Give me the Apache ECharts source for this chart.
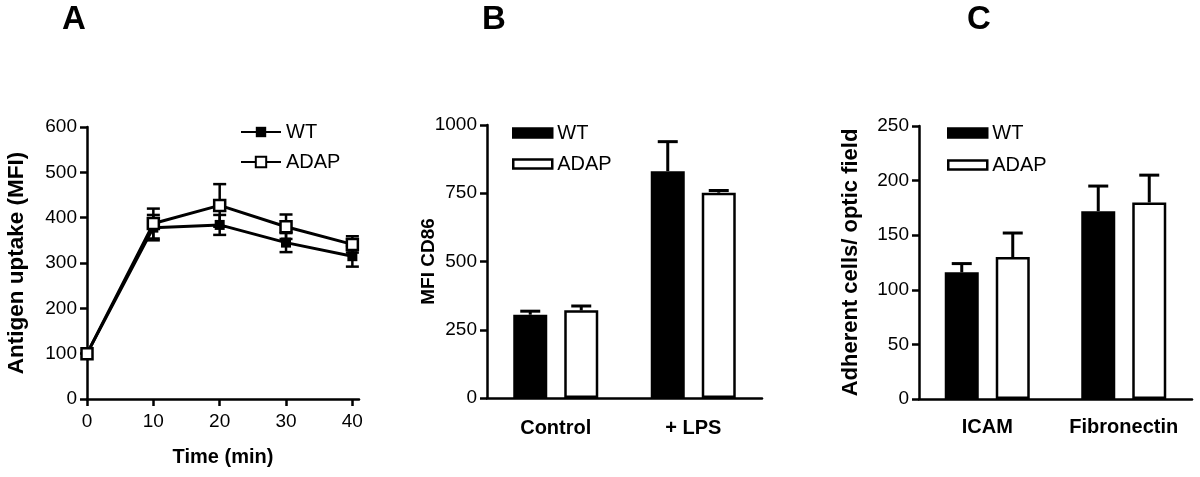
<!DOCTYPE html>
<html>
<head>
<meta charset="utf-8">
<script src="https://cdn.jsdelivr.net/npm/echarts@6/dist/echarts.min.js"></script>
<style>
html,body{margin:0;padding:0;background:#fff;}
#chart{width:1200px;height:477px;}
</style>
</head>
<body>
<div id="chart"></div>
<script>
// ---------- Panel A: antigen uptake over time ----------
const timeMin = [0, 10, 20, 30, 40];
const timeTicks = [0, 10, 20, 30, 40];
const wtUptake = [100, 378, 384, 345, 315];
const wtUptakeErr = [0, 28, 22, 21, 23];
const adapUptake = [100, 387, 427, 380, 341];
const adapUptakeErr = [0, 33, 47, 27, 18];

// ---------- Panel B: CD86 ----------
const catsB = ['Control', '+ LPS'];
const wtCD86 = [305, 831];
const wtCD86Err = [13, 108];
const adapCD86 = [321, 752];
const adapCD86Err = [16, 8];

// ---------- Panel C: adhesion ----------
const catsC = ['ICAM', 'Fibronectin'];
const wtAdh = [116, 172];
const wtAdhErr = [8, 23];
const adapAdh = [130, 180];
const adapAdhErr = [22, 25];

const FONT = '"Liberation Sans", Arial, Helvetica, sans-serif';
const BAR_W = 34;
const BAR_GAP = '50%';
const PAIR_OFF = (BAR_W + BAR_W * 0.5) / 2;

function zip3(a, b, c) { return a.map((v, i) => [v, b[i], c[i]]); }

function lineErrRender(params, api) {
  const x = api.value(0), y = api.value(1), e = api.value(2);
  if (!e) return null;
  const top = api.coord([x, y + e]);
  const bot = api.coord([x, y - e]);
  const hw = 6.5;
  const st = { stroke: '#000', lineWidth: 2.5 };
  return { type: 'group', children: [
    { type: 'line', shape: { x1: top[0], y1: top[1], x2: bot[0], y2: bot[1] }, style: st },
    { type: 'line', shape: { x1: top[0] - hw, y1: top[1], x2: top[0] + hw, y2: top[1] }, style: st },
    { type: 'line', shape: { x1: bot[0] - hw, y1: bot[1], x2: bot[0] + hw, y2: bot[1] }, style: st }
  ]};
}

function barErrRender(side) {
  return function (params, api) {
    const c = api.value(0), y = api.value(1), e = api.value(2);
    const base = api.coord([c, y]);
    const top = api.coord([c, y + e]);
    const x = base[0] + side * PAIR_OFF;
    const hw = 10;
    const st = { stroke: '#000', lineWidth: 3 };
    return { type: 'group', children: [
      { type: 'line', shape: { x1: x, y1: base[1], x2: x, y2: top[1] }, style: st },
      { type: 'line', shape: { x1: x - hw, y1: top[1], x2: x + hw, y2: top[1] }, style: st }
    ]};
  };
}

const axisLineStyle = { show: true, lineStyle: { color: '#000', width: 2.5 } };
const tickStyle = { show: true, length: 7, lineStyle: { color: '#000', width: 2.5 } };
const tickLabel = { color: '#000', fontSize: 19, fontFamily: FONT, margin: 10, formatter: v => String(v) };

const gridBase = { containLabel: false, outerBoundsMode: 'none' };

const legendText = { color: '#000', fontSize: 20, fontFamily: FONT };
const stripName = n => n.replace(/ \([ABC]\)$/, '');

const option = {
  animation: false,
  backgroundColor: '#fff',
  textStyle: { fontFamily: FONT },
  graphic: [
    { type: 'text', x: 74, y: 20, style: { text: 'A', font: 'bold 33px ' + FONT, fill: '#000', textAlign: 'center', textVerticalAlign: 'middle' } },
    { type: 'text', x: 494, y: 20, style: { text: 'B', font: 'bold 33px ' + FONT, fill: '#000', textAlign: 'center', textVerticalAlign: 'middle' } },
    { type: 'text', x: 979, y: 20, style: { text: 'C', font: 'bold 33px ' + FONT, fill: '#000', textAlign: 'center', textVerticalAlign: 'middle' } }
  ],
  grid: [
    Object.assign({ left: 87, top: 127, width: 272, height: 272 }, gridBase),
    Object.assign({ left: 487, top: 125, width: 275, height: 273 }, gridBase),
    Object.assign({ left: 919, top: 126, width: 273, height: 273 }, gridBase)
  ],
  legend: [
    { orient: 'vertical', left: 235, top: 117, itemWidth: 40, itemHeight: 13, itemGap: 10,
      data: ['WT (A)', 'ADAP (A)'], formatter: stripName, textStyle: legendText, selectedMode: false },
    { orient: 'vertical', left: 507, top: 118, itemWidth: 39, itemHeight: 9, itemGap: 11,
      data: [
        { name: 'WT (B)', icon: 'rect', itemStyle: { color: '#000', borderColor: '#000', borderWidth: 2.5 } },
        { name: 'ADAP (B)', icon: 'rect', itemStyle: { color: '#fff', borderColor: '#000', borderWidth: 2.5 } }
      ], formatter: stripName, textStyle: legendText, selectedMode: false },
    { orient: 'vertical', left: 942, top: 118, itemWidth: 39, itemHeight: 9, itemGap: 12,
      data: [
        { name: 'WT (C)', icon: 'rect', itemStyle: { color: '#000', borderColor: '#000', borderWidth: 2.5 } },
        { name: 'ADAP (C)', icon: 'rect', itemStyle: { color: '#fff', borderColor: '#000', borderWidth: 2.5 } }
      ], formatter: stripName, textStyle: legendText, selectedMode: false }
  ],
  xAxis: [
    { gridIndex: 0, type: 'value', min: 0, max: 41,
      axisLine: axisLineStyle,
      axisTick: Object.assign({ customValues: timeTicks }, tickStyle),
      axisLabel: Object.assign({}, tickLabel, { margin: 13, customValues: timeTicks }),
      splitLine: { show: false },
      name: 'Time (min)', nameLocation: 'middle', nameGap: 48, nameMoveOverlap: false,
      nameTextStyle: { color: '#000', fontSize: 20, fontWeight: 'bold', fontFamily: FONT } },
    { gridIndex: 1, type: 'category', data: catsB,
      axisLine: axisLineStyle, axisTick: { show: false },
      axisLabel: { color: '#000', fontSize: 20, fontWeight: 'bold', fontFamily: FONT, margin: 20, interval: 0 } },
    { gridIndex: 2, type: 'category', data: catsC,
      axisLine: axisLineStyle, axisTick: { show: false },
      axisLabel: { color: '#000', fontSize: 20, fontWeight: 'bold', fontFamily: FONT, margin: 18, interval: 0, hideOverlap: false } }
  ],
  yAxis: [
    { gridIndex: 0, type: 'value', min: 0, max: 600, interval: 100,
      axisLine: axisLineStyle, axisTick: tickStyle, axisLabel: tickLabel, splitLine: { show: false },
      name: 'Antigen uptake (MFI)', nameLocation: 'middle', nameGap: 59, nameRotate: 90, nameMoveOverlap: false,
      nameTextStyle: { color: '#000', fontSize: 22.5, fontWeight: 'bold', fontFamily: FONT } },
    { gridIndex: 1, type: 'value', min: 0, max: 1000, interval: 250,
      axisLine: axisLineStyle, axisTick: tickStyle, axisLabel: tickLabel, splitLine: { show: false },
      name: 'MFI CD86', nameLocation: 'middle', nameGap: 49, nameRotate: 90, nameMoveOverlap: false,
      nameTextStyle: { color: '#000', fontSize: 19, fontWeight: 'bold', fontFamily: FONT } },
    { gridIndex: 2, type: 'value', min: 0, max: 250, interval: 50,
      axisLine: axisLineStyle, axisTick: tickStyle, axisLabel: tickLabel, splitLine: { show: false },
      name: 'Adherent cells/ optic field', nameLocation: 'middle', nameGap: 57, nameRotate: 90, nameMoveOverlap: false,
      nameTextStyle: { color: '#000', fontSize: 22, fontWeight: 'bold', fontFamily: FONT } }
  ],
  series: [
    // Panel A error bars
    { type: 'custom', name: 'WT err (A)', xAxisIndex: 0, yAxisIndex: 0, z: 1,
      data: zip3(timeMin, wtUptake, wtUptakeErr), renderItem: lineErrRender },
    { type: 'custom', name: 'ADAP err (A)', xAxisIndex: 0, yAxisIndex: 0, z: 1,
      data: zip3(timeMin, adapUptake, adapUptakeErr), renderItem: lineErrRender },
    { type: 'line', name: 'WT (A)', xAxisIndex: 0, yAxisIndex: 0, z: 3,
      data: timeMin.map((t, i) => [t, wtUptake[i]]),
      symbol: 'rect', symbolSize: 10,
      lineStyle: { color: '#000', width: 3 },
      itemStyle: { color: '#000', borderColor: '#000', borderWidth: 0 } },
    { type: 'line', name: 'ADAP (A)', xAxisIndex: 0, yAxisIndex: 0, z: 4,
      data: timeMin.map((t, i) => [t, adapUptake[i]]),
      symbol: 'rect', symbolSize: 11,
      lineStyle: { color: '#000', width: 3 },
      itemStyle: { color: '#fff', borderColor: '#000', borderWidth: 2.5 } },

    // Panel B
    { type: 'bar', name: 'WT (B)', xAxisIndex: 1, yAxisIndex: 1, data: wtCD86,
      barWidth: BAR_W, barGap: BAR_GAP,
      itemStyle: { color: '#000', borderColor: '#000', borderWidth: 2.5 } },
    { type: 'bar', name: 'ADAP (B)', xAxisIndex: 1, yAxisIndex: 1, data: adapCD86,
      barWidth: BAR_W, barGap: BAR_GAP,
      itemStyle: { color: '#fff', borderColor: '#000', borderWidth: 2.5 } },
    { type: 'custom', name: 'WT err (B)', xAxisIndex: 1, yAxisIndex: 1, z: 3,
      data: catsB.map((c, i) => [i, wtCD86[i], wtCD86Err[i]]), renderItem: barErrRender(-1) },
    { type: 'custom', name: 'ADAP err (B)', xAxisIndex: 1, yAxisIndex: 1, z: 3,
      data: catsB.map((c, i) => [i, adapCD86[i], adapCD86Err[i]]), renderItem: barErrRender(1) },

    // Panel C
    { type: 'bar', name: 'WT (C)', xAxisIndex: 2, yAxisIndex: 2, data: wtAdh,
      barWidth: BAR_W, barGap: BAR_GAP,
      itemStyle: { color: '#000', borderColor: '#000', borderWidth: 2.5 } },
    { type: 'bar', name: 'ADAP (C)', xAxisIndex: 2, yAxisIndex: 2, data: adapAdh,
      barWidth: BAR_W, barGap: BAR_GAP,
      itemStyle: { color: '#fff', borderColor: '#000', borderWidth: 2.5 } },
    { type: 'custom', name: 'WT err (C)', xAxisIndex: 2, yAxisIndex: 2, z: 3,
      data: catsC.map((c, i) => [i, wtAdh[i], wtAdhErr[i]]), renderItem: barErrRender(-1) },
    { type: 'custom', name: 'ADAP err (C)', xAxisIndex: 2, yAxisIndex: 2, z: 3,
      data: catsC.map((c, i) => [i, adapAdh[i], adapAdhErr[i]]), renderItem: barErrRender(1) }
  ]
};

const chart = echarts.init(document.getElementById('chart'));
chart.setOption(option);
</script>
</body>
</html>
